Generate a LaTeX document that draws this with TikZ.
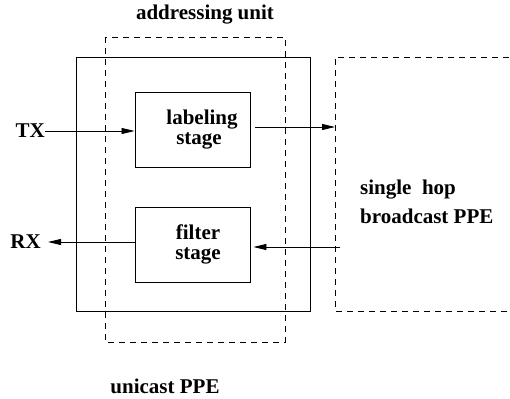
\documentclass[tikz,border=0pt]{standalone}
\usepackage{fontspec}
\setmainfont{Liberation Serif}
\usetikzlibrary{arrows.meta}
\begin{document}
\begin{tikzpicture}[x=1pt,y=-1pt,
  lbl/.style={font=\fontsize{21}{22}\selectfont\bfseries, inner sep=0pt},
  stagebox/.style={draw, line width=0.9pt, minimum width=115pt, minimum height=75pt, inner sep=0pt},
  stagetext/.style={inner sep=0pt, align=center, font=\fontsize{21}{20}\selectfont\bfseries},
  dbox/.style={draw, line width=0.8pt, dash pattern=on 6pt off 5pt},
  sbox/.style={draw, line width=0.9pt},
  arr/.style={line width=0.8pt, -{Triangle[length=13pt,width=6pt]}}]
\useasboundingbox (0,0) rectangle (510,398);
% outer unicast PPE box
\draw[sbox] (76,57) rectangle (310,311);
% addressing unit dashed box
\draw[dbox] (105,37) rectangle (285,342);
% broadcast PPE dashed box (open right side)
\draw[dbox] (520,57) -- (335,57) -- (335,311) -- (520,311);
% stages
\node[stagebox] (lab) at (192.5,129.5) {};
\node[stagetext] (labt) at (199,129.5) {\hspace*{6pt}labeling\\stage};
\node[stagebox] (fil) at (192.5,244.5) {};
\node[stagetext] (filt) at (198,244.5) {filter\\stage};
% labels
\node[lbl] (au) at (205,15) {addressing unit};
\node[lbl, anchor=east] (tx) at (45,131) {TX};
\node[lbl, anchor=east] (rx) at (41,242) {RX};
\node[lbl, anchor=west, align=left] (sh) at (360,202) {single\ \ hop\\[7pt]broadcast PPE};
\node[lbl] (uc) at (165,386) {unicast PPE};
\coordinate (bin) at (335,127);
\coordinate (bout) at (340,247);
% connectors
\draw[arr] (tx.east) -- (lab.west |- tx.east);
\draw[arr] (255,127) -- (bin);
\draw[arr] (fil.west |- rx.east) -- ([xshift=7pt]rx.east);
\draw[arr] (bout) -- ([xshift=3pt]fil.east |- bout);
\end{tikzpicture}
\end{document}
